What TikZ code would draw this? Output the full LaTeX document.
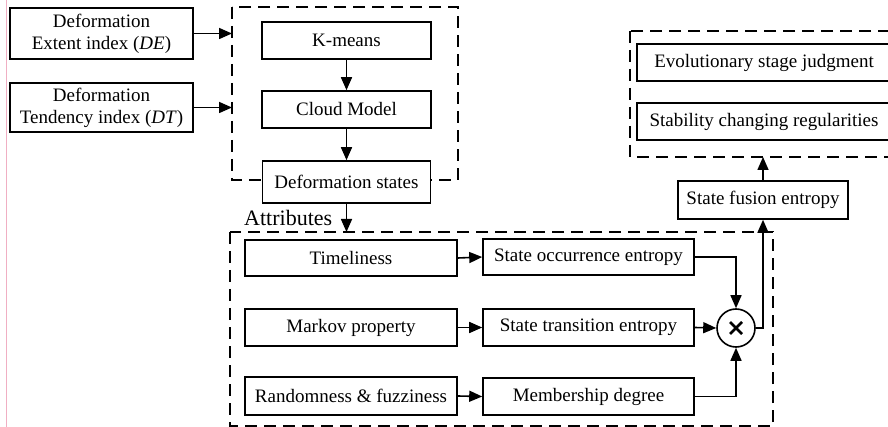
\documentclass[tikz,border=0pt]{standalone}
\usepackage{fontspec}
\setmainfont{Liberation Serif}
\usetikzlibrary{arrows.meta,positioning,calc}
\tikzset{
  box/.style={draw, line width=1.6pt, fill=white, inner sep=0pt, align=center,
    font=\fontsize{19}{22}\selectfont},
  dbox/.style={draw, line width=1.5pt, dash pattern=on 12pt off 7pt},
  arr/.style={line width=1.6pt, -{Triangle[length=13pt,width=11pt]}}
}
\begin{document}
\begin{tikzpicture}[x=1pt,y=-1pt]
\useasboundingbox (0,0) rectangle (888,427);
\clip (0,0) rectangle (888,427);
\fill[white] (0,0) rectangle (888,427);
\draw[line width=0.8pt, color={rgb,255:red,240;green,175;blue,195}] (6.5,0) -- (6.5,427);

% dashed groups
\draw[dbox] (232,7) rectangle (458,180);
\draw[dbox] (230,232) rectangle (773,426);
\draw[dbox] (630,31) rectangle (900,157);

% inputs
\node[box, minimum width=183pt, minimum height=51pt] (de) at (101.5,33.5) {Deformation\\Extent index (\textit{DE})};
\node[box, minimum width=183pt, minimum height=49pt] (dt) at (101.5,107.5) {Deformation\\Tendency index (\textit{DT})};
\coordinate (inde) at (232,33.5);
\coordinate (indt) at (232,107.5);
\draw[arr] (de.east) -- (inde);
\draw[arr] (dt.east) -- (indt);

% first group
\node[box, minimum width=169pt, minimum height=37pt] (km) at (346.5,40.5) {K-means};
\node[box, minimum width=169pt, minimum height=37pt] (cm) at (346.5,109.5) {Cloud Model};
\node[box, minimum width=168pt, minimum height=42pt] (ds) at (346.5,182) {Deformation states};
\draw[arr] (km.south) -- (cm.north);
\draw[arr] (cm.south) -- (ds.north);

\node[anchor=base west, inner sep=0pt, font=\fontsize{22}{24}\selectfont] (attr) at (244,226) {Attributes};
\coordinate (attrin) at (346.5,232);
\draw[arr] (ds.south) -- (attrin);

% attributes
\node[box, minimum width=212pt, minimum height=36pt] (tl) at (351,258) {Timeliness};
\node[box, minimum width=212pt, minimum height=37pt] (mk) at (351,327.5) {Markov property};
\node[box, minimum width=212pt, minimum height=38pt] (rf) at (351,396) {Randomness \& fuzziness};
\node[box, minimum width=211pt, minimum height=36pt] (so) at (588.5,257) {State occurrence entropy};
\node[box, minimum width=211pt, minimum height=37pt] (st) at (588.5,327.5) {State transition entropy};
\node[box, minimum width=211pt, minimum height=37pt] (md) at (588.5,396.5) {Membership degree};
\draw[arr] (tl.east) -- (so.west);
\draw[arr] (mk.east) -- (st.west);
\draw[arr] (rf.east) -- (md.west);

\node[draw, circle, line width=1.6pt, fill=white, minimum size=38pt, inner sep=0pt] (cx) at (736,328) {};
\draw[line width=2.6pt] ($(cx)+(-6,-6)$) -- ($(cx)+(6,6)$);
\draw[line width=2.6pt] ($(cx)+(-6,6)$) -- ($(cx)+(6,-6)$);
\draw[arr] (so.east) -| (cx.north);
\draw[arr] (st.east) -- (cx.west);
\draw[arr] (md.east) -| (cx.south);

% fusion
\node[box, minimum width=170pt, minimum height=38pt] (sf) at (763,200) {State fusion entropy};
\draw[arr] (cx.east) -| (sf.south);
\coordinate (outin) at (763,157);
\draw[arr] (sf.north) -- (outin);

\node[box, minimum width=254pt, minimum height=37pt] (ev) at (764,62.5) {Evolutionary stage judgment};
\node[box, minimum width=254pt, minimum height=37pt] (sc) at (764,121.5) {Stability changing regularities};
\end{tikzpicture}
\end{document}
